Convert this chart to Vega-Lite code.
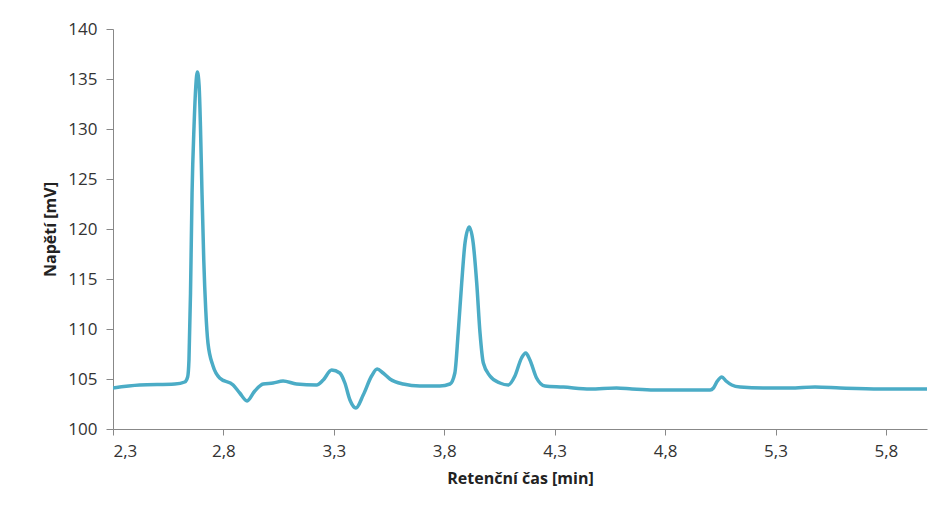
{
  "$schema": "https://vega.github.io/schema/vega-lite/v6.json",
  "autosize": "none",
  "width": 814,
  "height": 400,
  "padding": {"left": 113, "top": 29, "right": 14, "bottom": 77},
  "background": "white",
  "config": {
    "view": {"stroke": null},
    "font": "Open Sans"
  },
  "data": {
    "values": [
      {"t": 2.300, "u": 104.1},
      {"t": 2.421, "u": 104.4},
      {"t": 2.580, "u": 104.5},
      {"t": 2.625, "u": 104.7},
      {"t": 2.638, "u": 105.2},
      {"t": 2.644, "u": 106.9},
      {"t": 2.651, "u": 113.6},
      {"t": 2.658, "u": 123.6},
      {"t": 2.667, "u": 130.3},
      {"t": 2.675, "u": 134.3},
      {"t": 2.682, "u": 135.7},
      {"t": 2.690, "u": 134.3},
      {"t": 2.696, "u": 130.3},
      {"t": 2.703, "u": 123.6},
      {"t": 2.711, "u": 116.9},
      {"t": 2.720, "u": 111.9},
      {"t": 2.730, "u": 108.6},
      {"t": 2.753, "u": 106.3},
      {"t": 2.783, "u": 105.1},
      {"t": 2.844, "u": 104.4},
      {"t": 2.874, "u": 103.6},
      {"t": 2.907, "u": 102.8},
      {"t": 2.942, "u": 103.8},
      {"t": 2.980, "u": 104.5},
      {"t": 3.025, "u": 104.6},
      {"t": 3.070, "u": 104.8},
      {"t": 3.131, "u": 104.5},
      {"t": 3.222, "u": 104.4},
      {"t": 3.252, "u": 104.9},
      {"t": 3.290, "u": 105.9},
      {"t": 3.327, "u": 105.6},
      {"t": 3.350, "u": 104.6},
      {"t": 3.373, "u": 102.9},
      {"t": 3.400, "u": 102.1},
      {"t": 3.433, "u": 103.4},
      {"t": 3.471, "u": 105.3},
      {"t": 3.496, "u": 106.0},
      {"t": 3.523, "u": 105.6},
      {"t": 3.554, "u": 105.0},
      {"t": 3.614, "u": 104.5},
      {"t": 3.690, "u": 104.3},
      {"t": 3.780, "u": 104.3},
      {"t": 3.826, "u": 104.5},
      {"t": 3.848, "u": 105.6},
      {"t": 3.863, "u": 109.6},
      {"t": 3.879, "u": 114.6},
      {"t": 3.894, "u": 118.6},
      {"t": 3.913, "u": 120.2},
      {"t": 3.931, "u": 118.6},
      {"t": 3.947, "u": 114.6},
      {"t": 3.962, "u": 109.6},
      {"t": 3.977, "u": 106.6},
      {"t": 4.007, "u": 105.3},
      {"t": 4.052, "u": 104.6},
      {"t": 4.090, "u": 104.4},
      {"t": 4.120, "u": 105.3},
      {"t": 4.150, "u": 107.1},
      {"t": 4.169, "u": 107.6},
      {"t": 4.188, "u": 106.9},
      {"t": 4.218, "u": 105.1},
      {"t": 4.256, "u": 104.3},
      {"t": 4.339, "u": 104.2},
      {"t": 4.460, "u": 104.0},
      {"t": 4.580, "u": 104.1},
      {"t": 4.650, "u": 104.0},
      {"t": 4.750, "u": 103.9},
      {"t": 4.868, "u": 103.9},
      {"t": 5.004, "u": 103.9},
      {"t": 5.019, "u": 104.1},
      {"t": 5.037, "u": 104.8},
      {"t": 5.057, "u": 105.2},
      {"t": 5.076, "u": 104.8},
      {"t": 5.102, "u": 104.4},
      {"t": 5.140, "u": 104.2},
      {"t": 5.245, "u": 104.1},
      {"t": 5.366, "u": 104.1},
      {"t": 5.479, "u": 104.2},
      {"t": 5.593, "u": 104.1},
      {"t": 5.774, "u": 104.0},
      {"t": 5.986, "u": 104.0}
    ]
  },
  "mark": {"type": "line", "color": "#4BACC6", "strokeWidth": 3.5, "interpolate": "monotone", "clip": true},
  "encoding": {
    "x": {
      "field": "t",
      "type": "quantitative",
      "scale": {"domain": [2.3, 5.986], "nice": false, "zero": false},
      "axis": {
        "title": "Retenční čas [min]",
        "values": [2.3, 2.8, 3.3, 3.8, 4.3, 4.8, 5.3, 5.8],
        "labelExpr": "replace(format(datum.value, '.1f'), '.', ',')",
        "grid": false,
        "domainColor": "#888888",
        "tickColor": "#888888",
        "tickSize": 6,
        "labelPadding": 8,
        "labelFontSize": 17,
        "labelColor": "#333333",
        "labelFont": "Open Sans",
        "titleFont": "Open Sans",
        "titleFontSize": 16,
        "titleFontWeight": "bold",
        "titleColor": "#222222",
        "titlePadding": 11
      }
    },
    "y": {
      "field": "u",
      "type": "quantitative",
      "scale": {"domain": [100, 140], "nice": false, "zero": false},
      "axis": {
        "title": "Napětí [mV]",
        "values": [100, 105, 110, 115, 120, 125, 130, 135, 140],
        "grid": false,
        "domainColor": "#888888",
        "tickColor": "#888888",
        "tickSize": 7,
        "labelPadding": 9,
        "labelFontSize": 17,
        "labelColor": "#333333",
        "labelFont": "Open Sans",
        "titleFont": "Open Sans",
        "titleFontSize": 16,
        "titleFontWeight": "bold",
        "titleColor": "#222222",
        "titlePadding": 9
      }
    }
  }
}
